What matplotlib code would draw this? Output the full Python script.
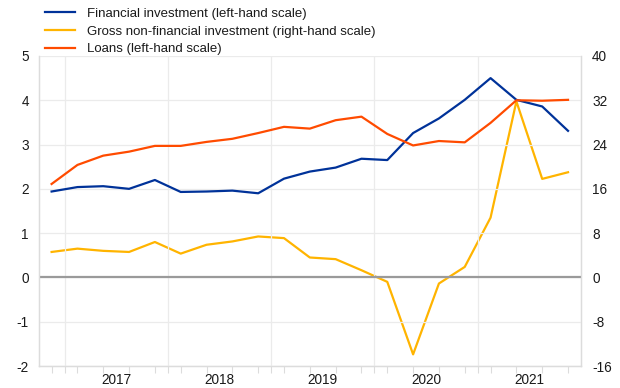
import matplotlib
matplotlib.use("Agg")
import matplotlib.pyplot as plt
import numpy as np

plt.rcParams['font.family'] = ['Liberation Sans', 'DejaVu Sans']
plt.rcParams['axes.unicode_minus'] = False

quarters = ["2016Q4",
            "2017Q1", "2017Q2", "2017Q3", "2017Q4",
            "2018Q1", "2018Q2", "2018Q3", "2018Q4",
            "2019Q1", "2019Q2", "2019Q3", "2019Q4",
            "2020Q1", "2020Q2", "2020Q3", "2020Q4",
            "2021Q1", "2021Q2", "2021Q3", "2021Q4"]
years = ["2017", "2018", "2019", "2020", "2021"]

financial_investment = [1.94, 2.04, 2.06, 2.00, 2.20, 1.93, 1.94, 1.96, 1.90, 2.23,
                        2.39, 2.48, 2.68, 2.65, 3.26, 3.59, 4.01, 4.50, 4.01, 3.86, 3.31]
gross_nonfin_investment = [4.6, 5.2, 4.8, 4.6, 6.4, 4.3, 5.9, 6.5, 7.4, 7.1,
                           3.6, 3.3, 1.3, -0.8, -13.9, -1.1, 1.9, 10.8, 31.8, 17.8, 19.0]
loans = [2.11, 2.54, 2.75, 2.84, 2.97, 2.97, 3.06, 3.13, 3.26, 3.40,
         3.36, 3.55, 3.63, 3.24, 2.98, 3.08, 3.05, 3.49, 4.00, 3.99, 4.01]

labels = ["Financial investment (left-hand scale)",
          "Gross non-financial investment (right-hand scale)",
          "Loans (left-hand scale)"]
colors = ["#003299", "#ffb400", "#ff4b00"]

x = np.arange(len(quarters))

fig = plt.figure(figsize=(6.2, 3.88), dpi=100)
ax = fig.add_axes([0.0624, 0.0567, 0.8746, 0.799])
ax2 = ax.twinx()

grid_c = "#ebebeb"
spine_c = "#dcdcdc"
text_c = "#1a1a1a"

ax.set_xlim(-0.5, len(quarters) - 0.5)
ax.set_ylim(-2, 5)
ax2.set_ylim(-16, 40)
ax.set_yticks(np.arange(-2, 6, 1))
ax2.set_yticks(np.arange(-16, 41, 8))

ax.grid(axis='y', color=grid_c, lw=0.9)
ax.set_axisbelow(True)
boundaries = np.arange(0.5, len(quarters) - 1, 4)
for b in boundaries:
    ax.axvline(b, color=grid_c, lw=0.9, zorder=0)
ax.axhline(0, color="#9a9a9a", lw=1.6, zorder=1)

ax.set_xticks(boundaries + 2)
ax.set_xticklabels(years)
ax.set_xticks(list(x) + list(boundaries), minor=True)
ax.tick_params(axis='x', which='major', length=0, pad=5, labelsize=9.8, colors=text_c)
ax.tick_params(axis='x', which='minor', length=5, color=spine_c, width=0.8)
ax.tick_params(axis='y', length=0, pad=7, labelsize=9.8, colors=text_c)
ax2.tick_params(axis='y', length=0, pad=8, labelsize=9.8, colors=text_c)

for a in (ax, ax2):
    a.spines['top'].set_visible(False)
    for s in ('left', 'right', 'bottom'):
        a.spines[s].set_color(spine_c)
        a.spines[s].set_linewidth(0.9)

l1, = ax.plot(x, financial_investment, color=colors[0], lw=1.6, zorder=3)
l2, = ax2.plot(x, gross_nonfin_investment, color=colors[1], lw=1.6, zorder=3)
l3, = ax.plot(x, loans, color=colors[2], lw=1.6, zorder=4)
ax.set_zorder(ax2.get_zorder() + 1)
ax.patch.set_visible(False)

leg = fig.legend([l1, l2, l3], labels, loc='upper left', bbox_to_anchor=(0.064, 0.994),
                 frameon=False, fontsize=9.5, handlelength=2.3, handletextpad=0.9,
                 labelspacing=0.42, borderaxespad=0)
for t in leg.get_texts():
    t.set_color(text_c)

fig.savefig("out.png", dpi=100)
